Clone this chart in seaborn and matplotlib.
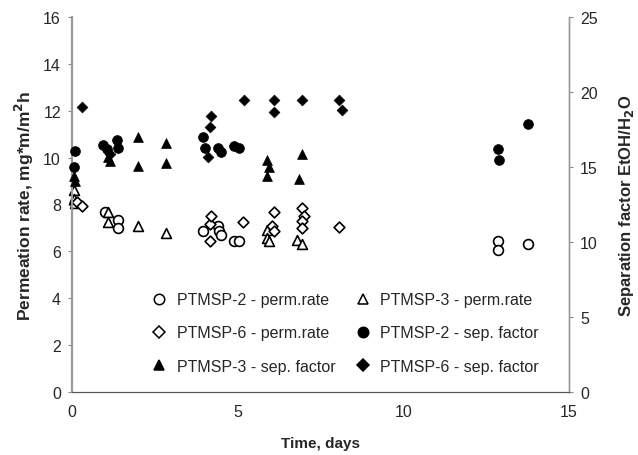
import matplotlib
matplotlib.use("Agg")
import matplotlib.pyplot as plt
import seaborn as sns
import pandas as pd
from matplotlib.lines import Line2D

sns.set_style("white")
plt.rcParams['font.family'] = ['Liberation Sans', 'DejaVu Sans']

# ---- data (days, values) ----
p2_perm_day = [0.1, 1.0, 1.4, 1.4, 3.95, 4.4, 4.45, 4.5, 4.9, 5.05, 12.85, 12.85, 13.75]
p2_perm = [8.1, 7.7, 7.35, 7.0, 6.87, 7.08, 6.87, 6.7, 6.45, 6.45, 6.45, 6.05, 6.3]

p3_perm_day = [0.05, 0.05, 0.1, 1.1, 1.1, 2.0, 2.85, 5.9, 5.9, 5.95, 6.8, 6.95]
p3_perm = [8.6, 8.25, 8.05, 7.7, 7.25, 7.1, 6.8, 6.9, 6.55, 6.45, 6.5, 6.3]

p6_perm_day = [0.15, 0.3, 4.15, 4.2, 4.15, 5.15, 6.1, 6.05, 6.1, 6.95, 7.0, 6.95, 6.95, 8.05]
p6_perm = [8.1, 7.95, 7.15, 7.5, 6.45, 7.25, 7.7, 7.1, 6.85, 7.85, 7.5, 7.3, 7.0, 7.05]

p2_sep_day = [0.1, 0.05, 0.95, 1.05, 1.35, 1.4, 3.95, 4.0, 4.4, 4.5, 4.9, 5.05, 12.85, 12.9, 13.75]
p2_sep = [16.1, 15.0, 16.5, 16.2, 16.8, 16.3, 17.0, 16.3, 16.3, 16.0, 16.4, 16.3, 16.2, 15.5, 17.9]

p3_sep_day = [0.05, 0.1, 1.1, 1.15, 2.0, 2.0, 2.85, 2.85, 5.9, 5.95, 5.9, 6.95, 6.85]
p3_sep = [14.4, 14.1, 15.7, 15.4, 17.0, 15.1, 16.6, 15.3, 15.5, 15.0, 14.4, 15.9, 14.2]

p6_sep_day = [0.3, 1.15, 4.1, 4.15, 4.2, 5.2, 6.1, 6.1, 6.95, 8.05, 8.15]
p6_sep = [19.0, 15.9, 15.7, 17.7, 18.4, 19.5, 19.5, 18.7, 19.5, 19.5, 18.8]

labels = ["PTMSP-2 - perm.rate", "PTMSP-3 - perm.rate", "PTMSP-6 - perm.rate",
          "PTMSP-2 - sep. factor", "PTMSP-3 - sep. factor", "PTMSP-6 - sep. factor"]
x_ticks = [0, 5, 10, 15]
left_ticks = [0, 2, 4, 6, 8, 10, 12, 14, 16]
right_ticks = [0, 5, 10, 15, 20, 25]

fig = plt.figure(figsize=(6.38, 4.56), dpi=100)
ax = fig.add_axes([72/638, 1-393/456, (569-72)/638, (393-18)/456])
ax2 = ax.twinx()

S = 50
open_kw = dict(facecolor="white", edgecolor="black", linewidth=1.2, clip_on=False, zorder=3)
fill_kw = dict(color="black", edgecolor="black", linewidth=0.5, clip_on=False, zorder=3)

sns.scatterplot(x=p2_perm_day, y=p2_perm, marker="o", s=S, ax=ax, **open_kw)
sns.scatterplot(x=p3_perm_day, y=p3_perm, marker="^", s=S, ax=ax, **open_kw)
sns.scatterplot(x=p6_perm_day, y=p6_perm, marker="D", s=S*0.6, ax=ax, **open_kw)
sns.scatterplot(x=p2_sep_day, y=p2_sep, marker="o", s=S, ax=ax2, **fill_kw)
sns.scatterplot(x=p3_sep_day, y=p3_sep, marker="^", s=S, ax=ax2, **fill_kw)
sns.scatterplot(x=p6_sep_day, y=p6_sep, marker="D", s=S*0.6, ax=ax2, **fill_kw)

ax.set_xlim(0, 15)
ax.set_ylim(0, 16)
ax2.set_ylim(0, 25)
ax.set_xticks(x_ticks)
ax.set_yticks(left_ticks)
ax2.set_yticks(right_ticks)

fs = 11.5
ax.tick_params(axis="both", labelsize=fs, length=3, width=0.8, color="#888888", direction="out", pad=5)
ax.tick_params(axis="x", length=0, pad=9)
ax2.tick_params(axis="y", labelsize=fs, length=3, width=0.8, color="#888888", direction="out", pad=5)

for a in (ax, ax2):
    a.spines["top"].set_visible(False)
    a.spines["left"].set_color("#999999")
    a.spines["right"].set_color("#999999")
    a.spines["bottom"].set_color("#555555")
    a.spines["left"].set_linewidth(1.5)
    a.spines["right"].set_linewidth(1.0)
    a.spines["bottom"].set_linewidth(0.8)

ax.set_xlabel("Time, days", fontsize=11, fontweight="bold", labelpad=12)
ax.set_ylabel("Permeation rate, mg*m/m$^\\mathbf{2}$h", fontsize=12.5, fontweight="bold", labelpad=5)
ax2.set_ylabel("Separation factor EtOH/H$_\\mathbf{2}$O", fontsize=12, fontweight="bold", labelpad=14)

def h(marker, filled):
    return Line2D([], [], linestyle="none", marker=marker,
                  markersize=7.5 if marker != "D" else 6,
                  markerfacecolor="black" if filled else "white",
                  markeredgecolor="black", markeredgewidth=1.1)

handles = [h("o", False), h("^", False), h("D", False), h("o", True), h("^", True), h("D", True)]
order = [0, 2, 4, 1, 3, 5]
leg = ax2.legend([handles[i] for i in order], [labels[i] for i in order], ncol=2,
                 loc="center", bbox_to_anchor=((345-72)/497, (393-334)/375),
                 frameon=False, fontsize=fs, labelspacing=1.15, columnspacing=1.2,
                 handlelength=1.0, handletextpad=0.6)

fig.savefig("out.png", dpi=100)
